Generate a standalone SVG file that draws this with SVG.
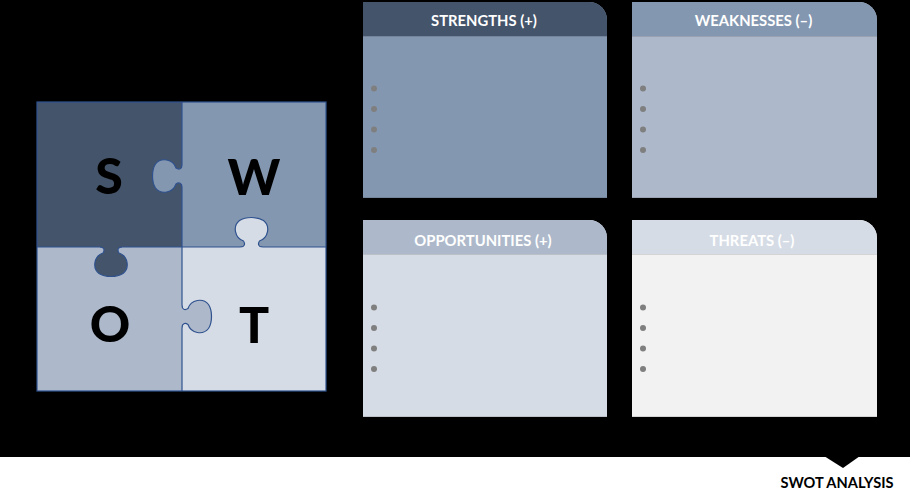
<svg xmlns="http://www.w3.org/2000/svg" width="910" height="496" viewBox="0 0 910 496">
  <defs>
    <style>
      .hdr { font-family: Lato, "Liberation Sans", sans-serif; font-weight: 700; font-size: 14.8px; fill: #ffffff; text-anchor: middle; }
      .ltr { font-family: Lato, "Liberation Sans", sans-serif; font-weight: 900; font-size: 50px; fill: #000000; text-anchor: middle; }
      .bul { fill: #7f7f7f; }
      .edge { stroke: #2f528f; stroke-width: 1.2; fill: none; }
      .sep { stroke: #000000; stroke-opacity: 0.12; stroke-width: 1; }
    </style>
    <path id="knobFill" d="M -11 0 C -7 0 -6 -3 -8 -6 C -17 -9 -19 -21 -12 -26.5 C -6 -30.5 6 -30.5 12 -26.5 C 19 -21 17 -9 8 -6 C 6 -3 7 0 11 0 L 11 2 L -11 2 Z"/>
    <path id="knobEdge" d="M -11 0 C -7 0 -6 -3 -8 -6 C -17 -9 -19 -21 -12 -26.5 C -6 -30.5 6 -30.5 12 -26.5 C 19 -21 17 -9 8 -6 C 6 -3 7 0 11 0"/>
  </defs>

  <rect x="0" y="0" width="910" height="457" fill="#000000"/>
  <rect x="0" y="457" width="910" height="39" fill="#ffffff"/>

  <g id="puzzle">
    <rect x="37" y="102" width="145" height="145" fill="#44546a"/>
    <rect x="182" y="102" width="144" height="145" fill="#8497b0"/>
    <rect x="37" y="247" width="145" height="144" fill="#adb9ca"/>
    <rect x="182" y="247" width="144" height="144" fill="#d6dce5"/>
    <rect x="37" y="102" width="289" height="289" class="edge"/>
    <line x1="182" y1="102" x2="182" y2="391" class="edge"/>
    <line x1="37" y1="247" x2="326" y2="247" class="edge"/>
    <g transform="translate(182,176) rotate(-90)">
      <use href="#knobFill" fill="#8497b0"/>
      <use href="#knobEdge" class="edge"/>
    </g>
    <g transform="translate(251.5,247)">
      <use href="#knobFill" fill="#d6dce5"/>
      <use href="#knobEdge" class="edge"/>
    </g>
    <g transform="translate(111,247) rotate(180)">
      <use href="#knobFill" fill="#44546a"/>
      <use href="#knobEdge" class="edge"/>
    </g>
    <g transform="translate(182,316.5) rotate(90)">
      <use href="#knobFill" fill="#adb9ca"/>
      <use href="#knobEdge" class="edge"/>
    </g>
    <text x="109" y="194" class="ltr">S</text>
    <text x="254" y="195" class="ltr">W</text>
    <text x="110" y="342" class="ltr">O</text>
    <text x="254" y="343" class="ltr">T</text>
  </g>

  <g id="strengths">
    <path d="M363 2 H589 A18 18 0 0 1 607 20 V198 H363 Z" fill="#8497b0"/>
    <path d="M363 2 H589 A18 18 0 0 1 607 20 V36 H363 Z" fill="#44546a"/>
    <line x1="363" y1="36.5" x2="607" y2="36.5" class="sep"/>
    <line x1="363" y1="197.5" x2="607" y2="197.5" class="sep"/>
    <text x="484" y="25.5" class="hdr">STRENGTHS (+)</text>
    <circle cx="374" cy="88.5" r="3" class="bul"/>
    <circle cx="374" cy="109" r="3" class="bul"/>
    <circle cx="374" cy="129.5" r="3" class="bul"/>
    <circle cx="374" cy="150" r="3" class="bul"/>
  </g>

  <g id="weaknesses">
    <path d="M632 2 H859 A18 18 0 0 1 877 20 V198 H632 Z" fill="#adb9ca"/>
    <path d="M632 2 H859 A18 18 0 0 1 877 20 V36 H632 Z" fill="#8497b0"/>
    <line x1="632" y1="36.5" x2="877" y2="36.5" class="sep"/>
    <line x1="632" y1="197.5" x2="877" y2="197.5" class="sep"/>
    <text x="753.5" y="25.5" class="hdr">WEAKNESSES (–)</text>
    <circle cx="643" cy="88.5" r="3" class="bul"/>
    <circle cx="643" cy="109" r="3" class="bul"/>
    <circle cx="643" cy="129.5" r="3" class="bul"/>
    <circle cx="643" cy="150" r="3" class="bul"/>
  </g>

  <g id="opportunities">
    <path d="M363 220 H589 A18 18 0 0 1 607 238 V417 H363 Z" fill="#d6dce5"/>
    <path d="M363 220 H589 A18 18 0 0 1 607 238 V254 H363 Z" fill="#adb9ca"/>
    <line x1="363" y1="254.5" x2="607" y2="254.5" class="sep"/>
    <line x1="363" y1="416.5" x2="607" y2="416.5" class="sep"/>
    <text x="483" y="245.5" class="hdr">OPPORTUNITIES (+)</text>
    <circle cx="374" cy="307.5" r="3" class="bul"/>
    <circle cx="374" cy="328" r="3" class="bul"/>
    <circle cx="374" cy="348.5" r="3" class="bul"/>
    <circle cx="374" cy="369" r="3" class="bul"/>
  </g>

  <g id="threats">
    <path d="M632 220 H859 A18 18 0 0 1 877 238 V417 H632 Z" fill="#f2f2f2"/>
    <path d="M632 220 H859 A18 18 0 0 1 877 238 V254 H632 Z" fill="#d6dce5"/>
    <line x1="632" y1="254.5" x2="877" y2="254.5" class="sep"/>
    <line x1="632" y1="416.5" x2="877" y2="416.5" class="sep"/>
    <text x="752" y="245.5" class="hdr">THREATS (–)</text>
    <circle cx="643" cy="307.5" r="3" class="bul"/>
    <circle cx="643" cy="328" r="3" class="bul"/>
    <circle cx="643" cy="348.5" r="3" class="bul"/>
    <circle cx="643" cy="369" r="3" class="bul"/>
  </g>

  <g id="footer">
    <path d="M824 456 L860 456 L843 468 Z" fill="#000000"/>
    <text x="837" y="488" font-family="Lato, 'Liberation Sans', sans-serif" font-weight="700" font-size="14.6" fill="#000000" text-anchor="middle">SWOT ANALYSIS</text>
  </g>
</svg>
